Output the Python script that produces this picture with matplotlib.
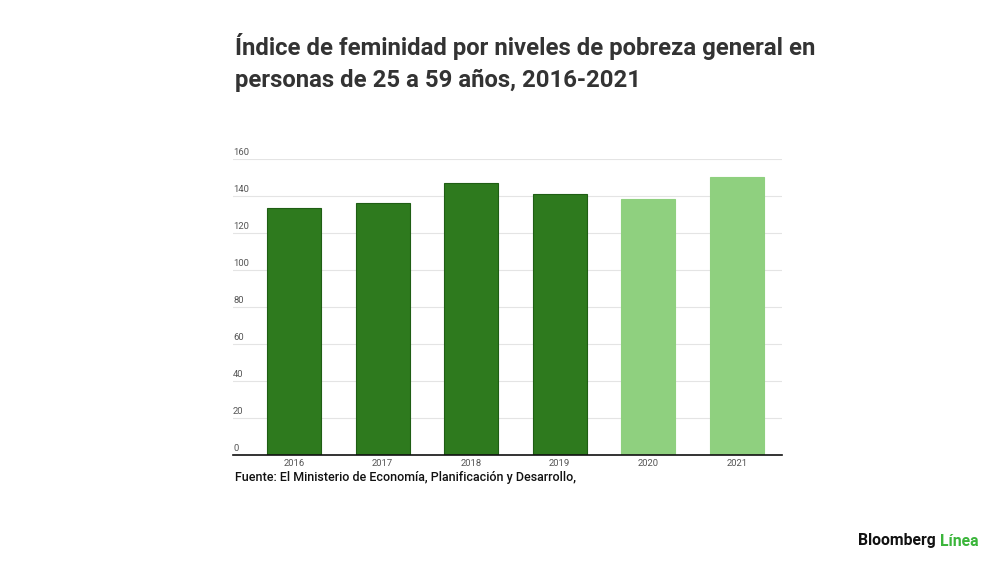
import matplotlib
matplotlib.use("Agg")
import matplotlib.pyplot as plt
import matplotlib.transforms as mtransforms

years = ["2016", "2017", "2018", "2019", "2020", "2021"]
values = [133.4, 136.0, 146.8, 141.0, 138.4, 150.4]
bar_colors = ["#2e7a1e", "#2e7a1e", "#2e7a1e", "#2e7a1e", "#8fd07f", "#8fd07f"]
edge_colors = ["#1f5e14", "#1f5e14", "#1f5e14", "#1f5e14", "#8fd07f", "#8fd07f"]
yticks = [0, 20, 40, 60, 80, 100, 120, 140, 160]

plt.rcParams['font.family'] = ['Roboto', 'DejaVu Sans']

fig = plt.figure(figsize=(10, 5.62), dpi=100)
W, H = 1000, 562
left, right, top, bottom = 233, 782, 159, 455
ax = fig.add_axes([left / W, 1 - bottom / H, (right - left) / W, (bottom - top) / H])

x = list(range(len(years)))
ax.bar(x, values, width=0.61, color=bar_colors, edgecolor=edge_colors, linewidth=0.8, zorder=3)
ax.set_xlim(-0.69, 5.51)
ax.set_ylim(0, 160)

for v in yticks:
    if v > 0:
        ax.axhline(v, color="#e4e4e4", linewidth=0.8, zorder=1)
trans = mtransforms.blended_transform_factory(ax.transAxes, ax.transData)
for v in yticks:
    ax.text(0.0, v + 1.0, str(v), transform=trans, fontsize=6.8, color="#555555",
            ha="left", va="bottom")

ax.set_yticks([])
ax.set_xticks(x)
ax.set_xticklabels(years, fontsize=6.8, color="#555555")
ax.tick_params(axis="x", length=0, pad=3)
for s in ["left", "right", "top"]:
    ax.spines[s].set_visible(False)
ax.spines["bottom"].set_color("#111111")
ax.spines["bottom"].set_linewidth(1.2)
ax.spines["bottom"].set_zorder(4)

fig.text(235 / W, 1 - 46 / H, "Índice de feminidad por niveles de pobreza general en",
         fontsize=17.2, fontweight="bold", color="#333333", ha="left", va="center")
fig.text(235 / W, 1 - 80 / H, "personas de 25 a 59 años, 2016-2021",
         fontsize=17.2, fontweight="bold", color="#333333", ha="left", va="center")

fig.text(235 / W, 1 - 477 / H, "Fuente: El Ministerio de Economía, Planificación y Desarrollo,",
         fontsize=9.0, fontweight="medium", color="#111111", ha="left", va="center")

t1 = fig.text(858 / W, 1 - 541 / H, "Bloomberg", fontsize=11.3, fontweight="bold",
              color="#111111", ha="left", va="center")
fig.canvas.draw()
bb = t1.get_window_extent()
fig.text((bb.x1 + 4) / W, 1 - 541 / H, "Línea", fontsize=11.3, fontweight="bold",
         color="#3ab53a", ha="left", va="center")

fig.savefig("out.png", dpi=100, facecolor="white")
